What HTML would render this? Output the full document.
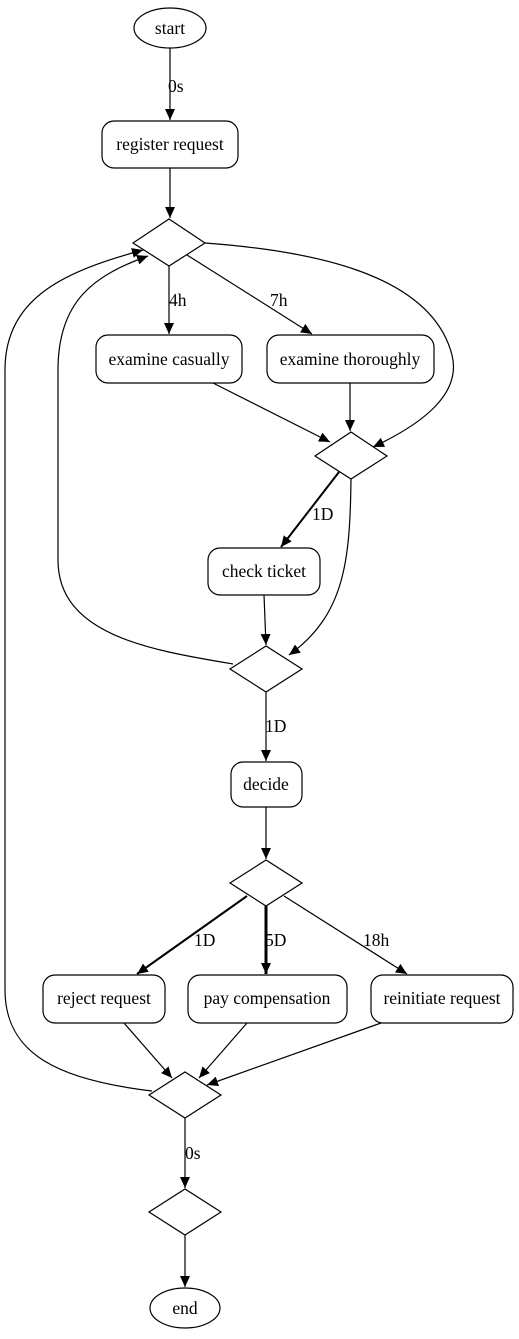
<!DOCTYPE html>
<html><head><meta charset="utf-8"><style>
html,body{margin:0;padding:0;background:#fff;}
svg{display:block;}
</style></head><body>
<svg width="519" height="1339" viewBox="0 0 519 1339" xmlns="http://www.w3.org/2000/svg">
<defs>
<marker id="a" markerUnits="userSpaceOnUse" markerWidth="12" markerHeight="10" refX="11" refY="5" orient="auto"><path d="M0,0 L11,5 L0,10 Z" fill="#000"/></marker>
</defs>
<g fill="none" stroke="#000" stroke-width="1.2">
<ellipse cx="170" cy="28" rx="36" ry="20" fill="#fff"/>
<rect x="102" y="121" width="136" height="47" rx="12" fill="#fff"/>
<polygon points="133,243 169,219 205,243 169,266" fill="#fff"/>
<rect x="96" y="335" width="146" height="48" rx="12" fill="#fff"/>
<rect x="267" y="335" width="167" height="48" rx="12" fill="#fff"/>
<polygon points="315,456 351,432 387,456 351,479" fill="#fff"/>
<rect x="208" y="548" width="112" height="47" rx="12" fill="#fff"/>
<polygon points="230,669 266,646 302,669 266,692" fill="#fff"/>
<rect x="231" y="762" width="71" height="45" rx="12" fill="#fff"/>
<polygon points="230,883 266,860 302,883 266,906" fill="#fff"/>
<rect x="43" y="975" width="122" height="48" rx="12" fill="#fff"/>
<rect x="188" y="975" width="159" height="48" rx="12" fill="#fff"/>
<rect x="371" y="975" width="142" height="48" rx="12" fill="#fff"/>
<polygon points="149,1095 185,1072 221,1095 185,1118" fill="#fff"/>
<polygon points="149,1212 185,1189 221,1212 185,1235" fill="#fff"/>
<ellipse cx="185" cy="1308" rx="35" ry="20" fill="#fff"/>
<path d="M170,48 L170,120" marker-end="url(#a)"/>
<path d="M170,168 L170,218" marker-end="url(#a)"/>
<path d="M169,266 L169,334" marker-end="url(#a)"/>
<path d="M187,255 L312,334" marker-end="url(#a)"/>
<path d="M205,243 C300,250 430,270 452,355 C462,395 420,425 373,447" marker-end="url(#a)"/>
<path d="M213,383 L330,442" marker-end="url(#a)"/>
<path d="M350,383 L350,431" marker-end="url(#a)"/>
<path d="M339,472 L281,547" stroke-width="2" marker-end="url(#a)"/>
<path d="M351,479 C350,560 345,615 289,655" marker-end="url(#a)"/>
<path d="M264,595 L266,645" marker-end="url(#a)"/>
<path d="M266,692 L266,761" marker-end="url(#a)"/>
<path d="M266,807 L266,859" marker-end="url(#a)"/>
<path d="M247,896 L137,974" stroke-width="2" marker-end="url(#a)"/>
<path d="M266,906 L266,974" stroke-width="3" marker-end="url(#a)"/>
<path d="M284,896 L407,974" marker-end="url(#a)"/>
<path d="M124,1023 L172,1078" marker-end="url(#a)"/>
<path d="M247,1023 L199,1078" marker-end="url(#a)"/>
<path d="M381,1023 L207,1085" marker-end="url(#a)"/>
<path d="M185,1118 L185,1188" marker-end="url(#a)"/>
<path d="M185,1235 L185,1287" marker-end="url(#a)"/>
<path d="M233,664 C150,650 58,635 58,560 L58,370 C58,300 95,275 148,256" marker-end="url(#a)"/>
<path d="M152,1091 C60,1080 5,1055 5,990 L5,370 C5,295 70,270 143,250" marker-end="url(#a)"/>
</g>
<g font-family="Liberation Serif, serif" font-size="17.5" fill="#000">
<text x="170" y="34" text-anchor="middle">start</text>
<text x="170" y="150" text-anchor="middle">register request</text>
<text x="169" y="365" text-anchor="middle">examine casually</text>
<text x="350" y="365" text-anchor="middle">examine thoroughly</text>
<text x="264" y="577" text-anchor="middle">check ticket</text>
<text x="266" y="790" text-anchor="middle">decide</text>
<text x="104" y="1004" text-anchor="middle">reject request</text>
<text x="267" y="1004" text-anchor="middle">pay compensation</text>
<text x="442" y="1004" text-anchor="middle">reinitiate request</text>
<text x="185" y="1314" text-anchor="middle">end</text>
<text x="168" y="92">0s</text>
<text x="169" y="306">4h</text>
<text x="270" y="306">7h</text>
<text x="312" y="520">1D</text>
<text x="265" y="732">1D</text>
<text x="194" y="946">1D</text>
<text x="265" y="946">5D</text>
<text x="363" y="946">18h</text>
<text x="185" y="1159">0s</text>
</g>
</svg>
</body></html>
